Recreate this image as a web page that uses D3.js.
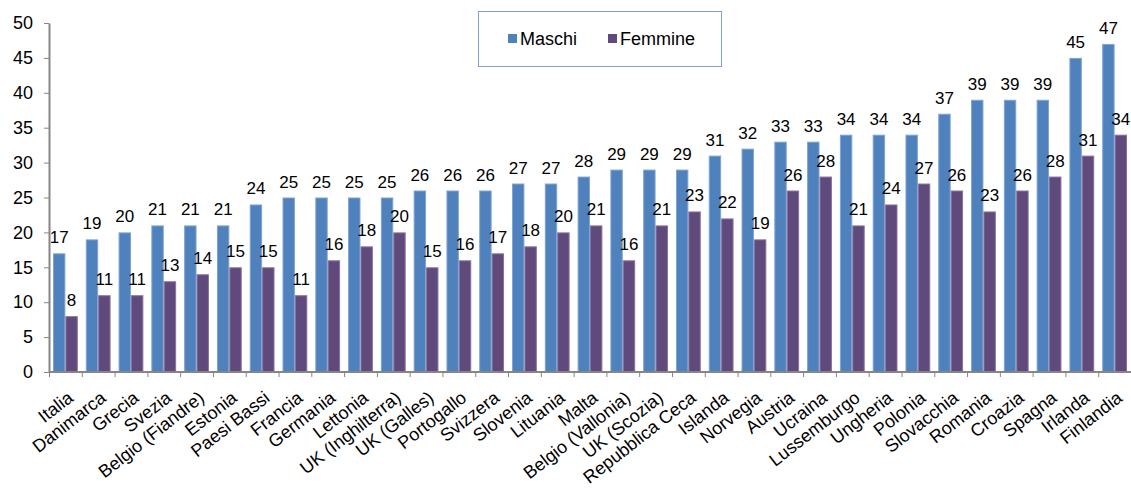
<!DOCTYPE html>
<html>
<head>
<meta charset="utf-8">
<script src="https://cdn.jsdelivr.net/npm/d3@7"></script>
<style>
  body { margin: 0; background: #fff; }
  svg { display: block; font-family: "Liberation Sans", Arial, sans-serif; }
  .axis path, .axis line { stroke: #868686; }
  .axis text { fill: #000; font-size: 18px; }
  .value { font-size: 17px; fill: #000; text-anchor: middle; }
</style>
</head>
<body>
<svg id="chart" width="1131" height="489"></svg>
<script>
// categories along the x axis
var paesi = ["Italia", "Danimarca", "Grecia", "Svezia", "Belgio (Fiandre)", "Estonia",
    "Paesi Bassi", "Francia", "Germania", "Lettonia", "UK (Inghilterra)", "UK (Galles)",
    "Portogallo", "Svizzera", "Slovenia", "Lituania", "Malta", "Belgio (Vallonia)",
    "UK (Scozia)", "Repubblica Ceca", "Islanda", "Norvegia", "Austria", "Ucraina",
    "Lussemburgo", "Ungheria", "Polonia", "Slovacchia", "Romania", "Croazia",
    "Spagna", "Irlanda", "Finlandia"];

var maschi = [17, 19, 20, 21, 21, 21, 24, 25, 25, 25, 25, 26, 26, 26, 27, 27, 28, 29,
    29, 29, 31, 32, 33, 33, 34, 34, 34, 37, 39, 39, 39, 45, 47];

var femmine = [8, 11, 11, 13, 14, 15, 15, 11, 16, 18, 20, 15, 16, 17, 18, 20, 21, 16,
    21, 23, 22, 19, 26, 28, 21, 24, 27, 26, 23, 26, 28, 31, 34];

var serie = ["Maschi", "Femmine"];
var yTicks = [0, 5, 10, 15, 20, 25, 30, 35, 40, 45, 50];

var colori = { "Maschi": "#4F81BD", "Femmine": "#604A7B" };
var bordi = { "Maschi": "#7FA3D3", "Femmine": "#8672A0" };

var svg = d3.select("#chart");

var x = d3.scaleBand().domain(paesi).range([49, 1131]).padding(0);
var x1 = d3.scaleBand().domain(serie).range([4, x.bandwidth() - 4]).padding(0);
var y = d3.scaleLinear().domain([0, 50]).range([372, 23]);

// bars
var rows = paesi.map(function(p, i)
{
    return { paese: p, valori: [
        { serie: "Maschi", v: maschi[i] },
        { serie: "Femmine", v: femmine[i] }] };
});

var gruppi = svg.selectAll("g.paese")
    .data(rows)
    .enter()
    .append("g")
    .attr("class", "paese")
    .attr("transform", function(d) { return "translate(" + x(d.paese) + ",0)"; });

gruppi.selectAll("rect")
    .data(function(d) { return d.valori; })
    .enter()
    .append("rect")
    .attr("x", function(d) { return x1(d.serie) + 0.5; })
    .attr("width", x1.bandwidth() - 1)
    .attr("y", function(d) { return y(d.v) + 0.5; })
    .attr("height", function(d) { return y(0) - y(d.v); })
    .attr("fill", function(d) { return colori[d.serie]; })
    .attr("stroke", function(d) { return bordi[d.serie]; })
    .attr("stroke-width", 1);

gruppi.selectAll("text")
    .data(function(d) { return d.valori; })
    .enter()
    .append("text")
    .attr("class", "value")
    .attr("x", function(d) { return x1(d.serie) + x1.bandwidth() / 2; })
    .attr("y", function(d) { return y(d.v) - 10; })
    .text(function(d) { return d.v; });

// y axis
var yAxis = svg.append("g")
    .attr("class", "axis")
    .attr("transform", "translate(49,0)")
    .call(d3.axisLeft(y).tickValues(yTicks).tickSize(5).tickSizeOuter(0).tickPadding(11));
yAxis.select(".domain").attr("stroke-width", 2);

// x axis, ticks on the band edges
var xAxis = svg.append("g")
    .attr("class", "axis")
    .attr("transform", "translate(0," + y(0) + ")");
xAxis.append("line")
    .attr("x1", 49).attr("x2", 1131)
    .attr("y1", 0).attr("y2", 0)
    .attr("stroke-width", 2);
xAxis.selectAll("line.tick")
    .data(paesi)
    .enter()
    .append("line")
    .attr("class", "tick")
    .attr("x1", function(d) { return x(d) + 0.5; })
    .attr("x2", function(d) { return x(d) + 0.5; })
    .attr("y1", 0).attr("y2", 5);

xAxis.selectAll("text")
    .data(paesi)
    .enter()
    .append("text")
    .attr("text-anchor", "end")
    .attr("transform", function(d)
    {
        return "translate(" + (x(d) + x.bandwidth() / 2 + 5) + ",23) rotate(-38)";
    })
    .attr("dy", "0.35em")
    .text(function(d) { return d; });

// legend
var legend = svg.append("g").attr("class", "legend");
legend.append("rect")
    .attr("x", 478.5).attr("y", 11.5)
    .attr("width", 243).attr("height", 55)
    .attr("fill", "#fff")
    .attr("stroke", "#7F9FD0");

var legX = { "Maschi": 508, "Femmine": 608 };
serie.forEach(function(s)
{
    legend.append("rect")
        .attr("x", legX[s]).attr("y", 34)
        .attr("width", 9).attr("height", 9)
        .attr("fill", colori[s]);
    legend.append("text")
        .attr("x", legX[s] + 12).attr("y", 44.5)
        .attr("font-size", 18)
        .text(s);
});
</script>
</body>
</html>
